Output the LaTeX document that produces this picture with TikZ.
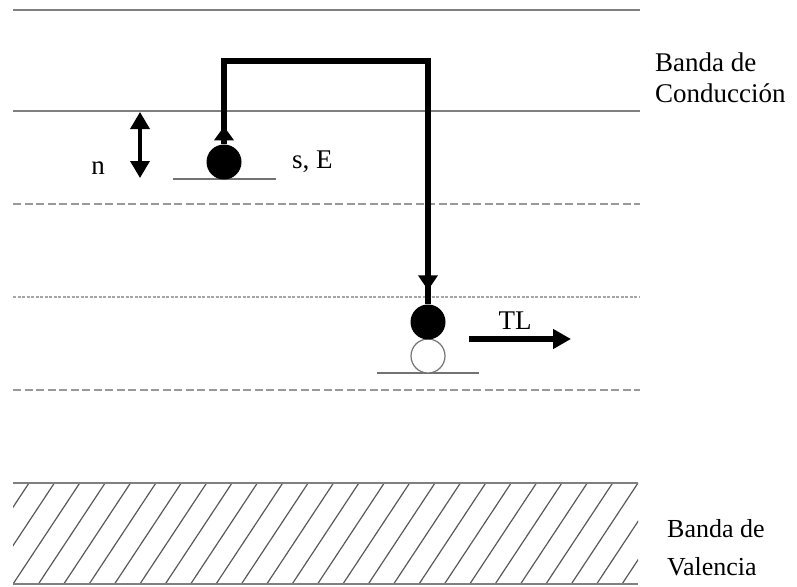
\documentclass[tikz,border=0pt]{standalone}
\usepackage{fontspec}
\setmainfont{Liberation Serif}
\usetikzlibrary{arrows.meta,decorations.markings}
\tikzset{
  band/.style={draw=black!50,line width=1.6pt},
  dashband/.style={draw=black!40,line width=1.6pt,dash pattern=on 8pt off 3.5pt},
  dotband/.style={draw=black!35,line width=1.4pt,dash pattern=on 3pt off 1.5pt},
  level/.style={draw=black!55,line width=2pt},
  hatch/.style={draw=black!65,line width=1.2pt},
  elec/.style={circle,fill=black,minimum size=35pt,inner sep=0pt},
  hole/.style={circle,draw=black!55,fill=white,line width=1.2pt,minimum size=34pt,inner sep=0pt},
  jump/.style={line width=5.2pt,line join=miter,postaction={decorate},
    decoration={markings,
      mark=at position 18pt with {\arrow{Triangle[width=19pt,length=14pt]}},
      mark=at position -14pt with {\arrow{Triangle[width=19pt,length=15pt]}}}},
  narrow/.style={line width=3.5pt,{Triangle[width=19pt,length=17pt]}-{Triangle[width=19pt,length=17pt]}},
  tlarrow/.style={line width=5.5pt,-{Triangle[width=19pt,length=18pt]}},
  lbl/.style={font=\fontsize{27}{32}\selectfont,inner sep=0pt},
}
\begin{document}
\begin{tikzpicture}[x=1pt,y=-1pt]
\useasboundingbox (0,0) rectangle (797,586);
% band lines
\draw[band] (13,10) -- (640,10);
\draw[band] (13,111) -- (640,111);
\draw[dashband] (13,204) -- (640,204);
\draw[dotband] (13,297) -- (640,297);
\draw[dashband] (13,390) -- (640,390);
% valence band hatch
\begin{scope}
\clip (13,483) rectangle (638,584);
\foreach \k in {-1,...,27} \draw[hatch] ({29+25.375*\k},483) -- ++(-66.7,101);
\end{scope}
\draw[band] (13,483) -- (638,483);
\draw[band] (13,584) -- (638,584);
% levels
\draw[level] (173,179) -- (276,179);
\draw[level] (377,373) -- (479,373);
% electrons and hole
\node[hole] (h2) at (428,356) {};
\node[elec] (e1) at (224,162) {};
\node[elec] (e2) at (428,322) {};
% jump path
\coordinate (c1) at (224,61);
\coordinate (c2) at (428,61);
\draw[jump] (e1.north) -- (c1) -- (c2) -- (e2.north);
% n arrow
\coordinate (n1) at (140,112);
\coordinate (n2) at (140,178);
\draw[narrow] (n1) -- (n2);
% TL arrow
\coordinate (t1) at (469,339);
\coordinate (t2) at (571,339);
\draw[tlarrow] (t1) -- (t2);
% labels
\node[lbl] (ln) at (98,168) {n};
\node[lbl,anchor=west] (lse) at (292,162) {s, E};
\node[lbl] (ltl) at (515,321) {TL};
\node[lbl,anchor=west,align=left,font=\fontsize{27}{31}\selectfont] (lcb) at (655,78) {Banda de\\Conducción};
\node[lbl,anchor=west,align=left,font=\fontsize{26}{38}\selectfont] (lvb) at (667,548) {Banda de\\Valencia};
\end{tikzpicture}
\end{document}
